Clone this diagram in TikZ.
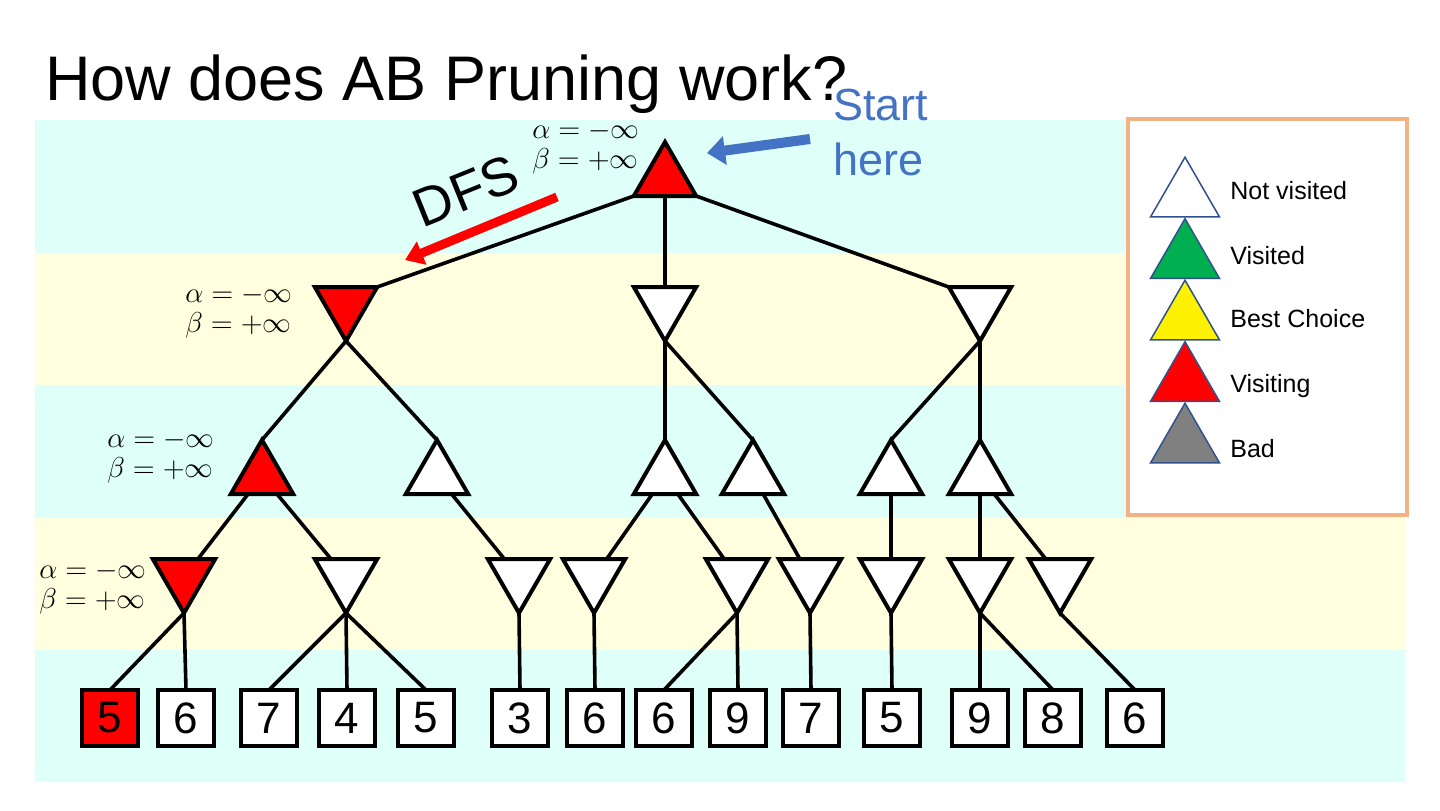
\documentclass[tikz,border=0pt]{standalone}
\usepackage{fontspec}
\setmainfont{Liberation Sans}
\usetikzlibrary{arrows.meta, shapes.geometric}
\definecolor{bandcyan}{HTML}{DFFFF9}
\definecolor{bandyellow}{HTML}{FFFFE0}
\definecolor{legendframe}{HTML}{F4B183}
\definecolor{legendline}{HTML}{2F528F}
\definecolor{startblue}{HTML}{4472C4}
\definecolor{visitedgreen}{HTML}{00B050}
\pgfdeclarelayer{bands}
\pgfdeclarelayer{links}
\pgfsetlayers{bands,links,main}

\begin{document}
\begin{tikzpicture}[x=0.5pt, y=-0.5pt,
  maxnode/.style={regular polygon, regular polygon sides=3, draw=black, line width=2pt,
    fill=white, minimum size=36pt, inner sep=0pt, outer sep=0pt},
  minnode/.style={maxnode, shape border rotate=180},
  visiting/.style={fill=red},
  leafbox/.style={draw=black, line width=2pt, fill=white, minimum size=28pt,
    inner sep=0pt, outer sep=0pt, font=\fontsize{22}{26}\selectfont},
  edgeline/.style={line width=1.8pt},
  abtext/.style={anchor=east, align=left, inner sep=0pt, font=\fontsize{13.5}{15}\selectfont},
  legtri/.style={regular polygon, regular polygon sides=3, draw=legendline, line width=0.75pt,
    fill=white, minimum size=39.8pt, inner sep=0pt},
  legtext/.style={anchor=base west, inner sep=0pt, font=\fontsize{12.5}{15}\selectfont}]
  \useasboundingbox (0,0) rectangle (1440,810);

  % Hintergrund (Streifen je Ebene)
  \begin{pgfonlayer}{bands}
    \fill[bandcyan] (35,120) rectangle (1405,253);
    \fill[bandyellow] (35,253) rectangle (1405,385);
    \fill[bandcyan] (35,385) rectangle (1405,518);
    \fill[bandyellow] (35,518) rectangle (1405,650);
    \fill[bandcyan] (35,650) rectangle (1405,782);
  \end{pgfonlayer}

  % Titel
  \node[anchor=base west, inner sep=0pt, font=\fontsize{31.5}{36}\selectfont] (title) at (45,100) {How does AB Pruning work?};

  % Wurzel
  \node[maxnode, visiting] (root) at (665,178) {};
  \node[abtext] (abroot) at (640,148) {$\alpha = -\infty$\\$\beta = +\infty$};

  % Ebene 1 (min)
  \node[minnode, visiting] (a1) at (346,305) {};
  \node[minnode] (a2) at (665,305) {};
  \node[minnode] (a3) at (980,305) {};
  \node[abtext] (aba1) at (293,312) {$\alpha = -\infty$\\$\beta = +\infty$};

  % Ebene 2 (max)
  \node[maxnode, visiting] (b1) at (262,476) {};
  \node[maxnode] (b2) at (437,476) {};
  \node[maxnode] (b3) at (665,476) {};
  \node[maxnode] (b4) at (753,476) {};
  \node[maxnode] (b5) at (891,476) {};
  \node[maxnode] (b6) at (980,476) {};
  \node[abtext] (abb1) at (215,457) {$\alpha = -\infty$\\$\beta = +\infty$};

  % Ebene 3 (min)
  \node[minnode, visiting] (c1) at (184,577) {};
  \node[minnode] (c2) at (346,577) {};
  \node[minnode] (c3) at (519,577) {};
  \node[minnode] (c4) at (594,577) {};
  \node[minnode] (c5) at (737,577) {};
  \node[minnode] (c6) at (810,577) {};
  \node[minnode] (c7) at (891,577) {};
  \node[minnode] (c8) at (980,577) {};
  \node[minnode] (c9) at (1060,577) {};
  \node[abtext] (abc1) at (147,588) {$\alpha = -\infty$\\$\beta = +\infty$};

  % Blätter
  \node[leafbox, visiting] (d1) at (110,718) {5};
  \node[leafbox] (d2) at (186,718) {6};
  \node[leafbox] (d3) at (269,718) {7};
  \node[leafbox] (d4) at (347,718) {4};
  \node[leafbox] (d5) at (426,718) {5};
  \node[leafbox] (d6) at (520,718) {3};
  \node[leafbox] (d7) at (595,718) {6};
  \node[leafbox] (d8) at (664,718) {6};
  \node[leafbox] (d9) at (738,718) {9};
  \node[leafbox] (d10) at (811,718) {7};
  \node[leafbox] (d11) at (892,718) {5};
  \node[leafbox] (d12) at (980,718) {9};
  \node[leafbox] (d13) at (1053,718) {8};
  \node[leafbox] (d14) at (1135,718) {6};

  % Kanten
  \begin{pgfonlayer}{links}
    \draw[edgeline] (root.corner 2) -- (a1.corner 2);
    \draw[edgeline] (root.side 2) -- (a2.side 2);
    \draw[edgeline] (root.corner 3) -- (a3.corner 3);

    \draw[edgeline] (a1.corner 1) -- (b1.corner 1);
    \draw[edgeline] (a1.corner 1) -- (b2.corner 1);
    \draw[edgeline] (a2.corner 1) -- (b3.corner 1);
    \draw[edgeline] (a2.corner 1) -- (b4.corner 1);
    \draw[edgeline] (a3.corner 1) -- (b5.corner 1);
    \draw[edgeline] (a3.corner 1) -- (b6.corner 1);

    \draw[edgeline] (b1.center) -- (c1.center);
    \draw[edgeline] (b1.center) -- (c2.center);
    \draw[edgeline] (b2.center) -- (c3.center);
    \draw[edgeline] (b3.center) -- (c4.center);
    \draw[edgeline] (b3.center) -- (c5.center);
    \draw[edgeline] (b4.center) -- (c6.center);
    \draw[edgeline] (b5.center) -- (c7.center);
    \draw[edgeline] (b6.center) -- (c8.center);
    \draw[edgeline] (b6.center) -- (c9.center);

    \draw[edgeline] (c1.corner 1) -- (d1.north);
    \draw[edgeline] (c1.corner 1) -- (d2.north);
    \draw[edgeline] (c2.corner 1) -- (d3.north);
    \draw[edgeline] (c2.corner 1) -- (d4.north);
    \draw[edgeline] (c2.corner 1) -- (d5.north);
    \draw[edgeline] (c3.corner 1) -- (d6.north);
    \draw[edgeline] (c4.corner 1) -- (d7.north);
    \draw[edgeline] (c5.corner 1) -- (d8.north);
    \draw[edgeline] (c5.corner 1) -- (d9.north);
    \draw[edgeline] (c6.corner 1) -- (d10.north);
    \draw[edgeline] (c7.corner 1) -- (d11.north);
    \draw[edgeline] (c8.corner 1) -- (d12.north);
    \draw[edgeline] (c8.corner 1) -- (d13.north);
    \draw[edgeline] (c9.corner 1) -- (d14.north);
  \end{pgfonlayer}

  % Start-Pfeil
  \node[anchor=north west, inner sep=0pt, align=left, text=startblue,
    font=\fontsize{22.5}{27.5}\selectfont] (start) at (833,89) {Start\\here};
  \coordinate (starttail) at (810,139);
  \coordinate (starttip) at (707,153);
  \draw[startblue, line width=5pt, -{Triangle[length=9pt, width=14pt]}] (starttail) -- (starttip);

  % DFS-Pfeil
  \coordinate (dfstail) at (557,197);
  \coordinate (dfstip) at (405,260);
  \draw[red, line width=4.5pt, -{Triangle[length=9pt, width=12pt]}] (dfstail) -- (dfstip);
  \node[rotate=22, inner sep=0pt, font=\fontsize{27}{30}\selectfont] (dfs) at (466,191) {DFS};

  % Legende
  \draw[legendframe, line width=2pt, fill=white] (1128,119) rectangle (1407,515);
  \node[legtri] (legnot) at (1185,197) {};
  \node[legtri, fill=visitedgreen] (legvisited) at (1185,258.5) {};
  \node[legtri, fill=yellow] (legbest) at (1185,320) {};
  \node[legtri, fill=red] (legvisiting) at (1185,381.5) {};
  \node[legtri, fill=gray] (legbad) at (1185,443) {};
  \node[legtext] (legnottext) at (1230,199) {Not visited};
  \node[legtext] (legvisitedtext) at (1230,264) {Visited};
  \node[legtext] (legbesttext) at (1230,327) {Best Choice};
  \node[legtext] (legvisitingtext) at (1230,392) {Visiting};
  \node[legtext] (legbadtext) at (1230,457) {Bad};
\end{tikzpicture}
\end{document}
